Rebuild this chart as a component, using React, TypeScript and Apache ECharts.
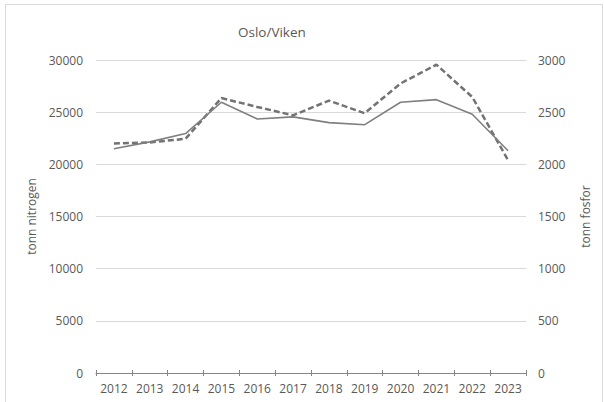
import React, { useEffect, useRef } from "react";
import * as echarts from "echarts";

const years = ["2012", "2013", "2014", "2015", "2016", "2017", "2018", "2019", "2020", "2021", "2022", "2023"];
const nitrogen = [21500, 22150, 22950, 25950, 24350, 24550, 24000, 23800, 25950, 26200, 24800, 21300];
const fosfor = [2200, 2210, 2245, 2635, 2550, 2470, 2610, 2490, 2775, 2955, 2645, 2040];
const title = "Oslo/Viken";
const leftName = "tonn nitrogen";
const rightName = "tonn fosfor";

const FONT = "'Open Sans', 'Liberation Sans', sans-serif";
const TXT = "#595959";
const plain = (v: number) => String(v);

export default function App() {
  const ref = useRef<HTMLDivElement>(null);
  useEffect(() => {
    if (!ref.current) return;
    const chart = echarts.init(ref.current, undefined, { renderer: "svg" });
    chart.setOption({
      animation: false,
      backgroundColor: "#ffffff",
      textStyle: { fontFamily: FONT },
      title: {
        text: title,
        left: 233,
        top: 20,
        textStyle: { fontFamily: FONT, fontSize: 13.5, fontWeight: "normal", color: TXT },
      },
      graphic: [
        {
          type: "rect",
          shape: { x: 5.5, y: 4.5, width: 597, height: 420 },
          style: { fill: "none", stroke: "#d9d9d9", lineWidth: 1 },
          silent: true,
        },
      ],
      grid: { left: 96, right: 78, top: 60, bottom: 29, containLabel: false },
      xAxis: [
        {
          type: "category",
          data: years,
          boundaryGap: true,
          position: "bottom",
          axisLine: { show: true, lineStyle: { color: "#868686", width: 1 } },
          axisTick: { show: true, length: 3, lineStyle: { color: "#868686" } },
          axisLabel: { color: TXT, fontSize: 12, fontFamily: FONT, margin: 9 },
          splitLine: { show: false },
        },
        {
          type: "category",
          data: years,
          boundaryGap: true,
          position: "bottom",
          axisLine: { show: false },
          axisTick: { show: true, inside: true, length: 3, lineStyle: { color: "#868686" } },
          axisLabel: { show: false },
          splitLine: { show: false },
        },
      ],
      yAxis: [
        {
          type: "value",
          min: 0,
          max: 30000,
          interval: 5000,
          position: "left",
          name: leftName,
          nameLocation: "middle",
          nameGap: 59,
          nameRotate: 90,
          nameTextStyle: { color: TXT, fontSize: 12, fontFamily: FONT },
          axisLine: { show: false },
          axisTick: { show: false },
          axisLabel: { color: TXT, fontSize: 12, fontFamily: FONT, margin: 13, formatter: plain },
          splitLine: { show: true, lineStyle: { color: "#d9d9d9", width: 1 } },
        },
        {
          type: "value",
          min: 0,
          max: 3000,
          interval: 500,
          position: "right",
          name: rightName,
          nameLocation: "middle",
          nameGap: 53,
          nameRotate: 90,
          nameTextStyle: { color: TXT, fontSize: 12, fontFamily: FONT },
          axisLine: { show: false },
          axisTick: { show: false },
          axisLabel: { color: TXT, fontSize: 12, fontFamily: FONT, margin: 12, formatter: plain },
          splitLine: { show: false },
        },
      ],
      series: [
        {
          name: leftName,
          type: "line",
          xAxisIndex: 0,
          yAxisIndex: 0,
          data: nitrogen,
          symbol: "none",
          lineStyle: { color: "#7f7f7f", width: 1.6, type: "solid" },
          z: 3,
        },
        {
          name: rightName,
          type: "line",
          xAxisIndex: 0,
          yAxisIndex: 1,
          data: fosfor,
          symbol: "none",
          lineStyle: { color: "#737373", width: 2.5, type: [6, 3] },
          z: 2,
        },
      ],
    });
    return () => chart.dispose();
  }, []);
  return (
    <div
      ref={ref}
      style={{ position: "fixed", left: 0, top: 0, width: 604, height: 402, background: "#fff" }}
    />
  );
}
